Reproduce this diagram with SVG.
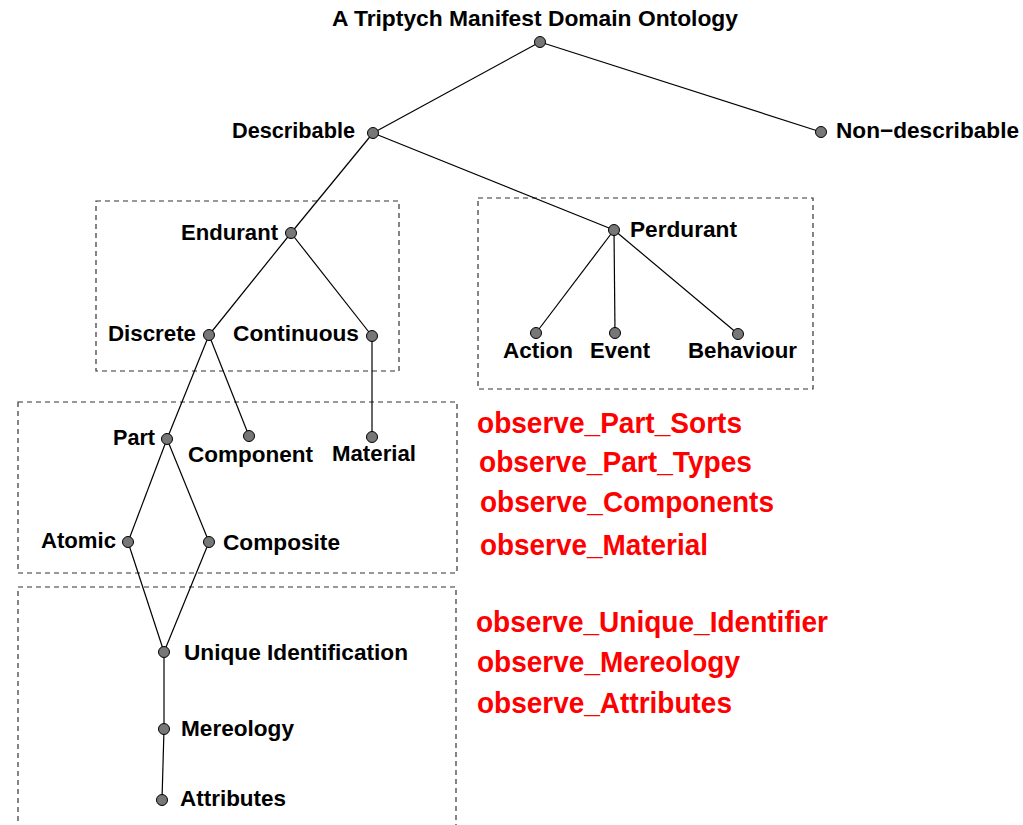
<svg xmlns="http://www.w3.org/2000/svg" width="1023" height="825" viewBox="0 0 1023 825">
<style>
.lbl{font-family:"Liberation Sans",Arial,Helvetica,sans-serif;font-weight:bold;font-size:22px;fill:#000}
.obs{font-family:"Liberation Sans",Arial,Helvetica,sans-serif;font-weight:bold;font-size:30px;fill:#ff0000}
.dot{fill:#777;stroke:#000;stroke-width:1}
.box{fill:none;stroke:#333;stroke-width:1.2;stroke-dasharray:5,4}
.edge{stroke:#000;stroke-width:1.2;fill:none}
</style>
<rect width="1023" height="825" fill="#fff"/>
<g id="boxes">
<rect class="box" x="96" y="201" width="303" height="170"/>
<rect class="box" x="478" y="198" width="335" height="191"/>
<rect class="box" x="18" y="402" width="439" height="171"/>
<path class="box" d="M18 830 V587 H456 V830"/>
</g>
<g id="connectors">
<line class="edge" x1="540" y1="42" x2="373" y2="133"/>
<line class="edge" x1="540" y1="42" x2="821" y2="132"/>
<line class="edge" x1="373" y1="133" x2="291" y2="233"/>
<line class="edge" x1="373" y1="133" x2="614" y2="230"/>
<line class="edge" x1="291" y1="233" x2="209" y2="335"/>
<line class="edge" x1="291" y1="233" x2="372" y2="336"/>
<line class="edge" x1="614" y1="230" x2="536" y2="333"/>
<line class="edge" x1="614" y1="230" x2="615" y2="333"/>
<line class="edge" x1="614" y1="230" x2="738" y2="334"/>
<line class="edge" x1="209" y1="335" x2="167" y2="439"/>
<line class="edge" x1="209" y1="335" x2="249" y2="436"/>
<line class="edge" x1="372" y1="336" x2="372" y2="437"/>
<line class="edge" x1="167" y1="439" x2="128" y2="542"/>
<line class="edge" x1="167" y1="439" x2="209" y2="542"/>
<line class="edge" x1="128" y1="542" x2="164" y2="652"/>
<line class="edge" x1="209" y1="542" x2="164" y2="652"/>
<line class="edge" x1="164" y1="652" x2="164" y2="729"/>
<line class="edge" x1="164" y1="729" x2="162" y2="800"/>
</g>
<g id="n-root"><circle class="dot" cx="540" cy="42" r="5.5"/><text class="lbl" x="332" y="26" font-size="23" textLength="406" lengthAdjust="spacingAndGlyphs">A Triptych Manifest Domain Ontology</text></g>
<g id="n-describable"><circle class="dot" cx="373" cy="133" r="5.5"/><text class="lbl" x="232" y="138" textLength="123" lengthAdjust="spacingAndGlyphs">Describable</text></g>
<g id="n-nondescribable"><circle class="dot" cx="821" cy="132" r="5.5"/><text class="lbl" x="836" y="138" textLength="183" lengthAdjust="spacingAndGlyphs">Non−describable</text></g>
<g id="n-endurant"><circle class="dot" cx="291" cy="233" r="5.5"/><text class="lbl" x="181" y="240" textLength="97" lengthAdjust="spacingAndGlyphs">Endurant</text></g>
<g id="n-perdurant"><circle class="dot" cx="614" cy="230" r="5.5"/><text class="lbl" x="630" y="237" textLength="107" lengthAdjust="spacingAndGlyphs">Perdurant</text></g>
<g id="n-discrete"><circle class="dot" cx="209" cy="335" r="5.5"/><text class="lbl" x="108" y="341" textLength="88" lengthAdjust="spacingAndGlyphs">Discrete</text></g>
<g id="n-continuous"><circle class="dot" cx="372" cy="336" r="5.5"/><text class="lbl" x="233" y="341" textLength="126" lengthAdjust="spacingAndGlyphs">Continuous</text></g>
<g id="n-action"><circle class="dot" cx="536" cy="333" r="5.5"/><text class="lbl" x="503" y="358" textLength="70" lengthAdjust="spacingAndGlyphs">Action</text></g>
<g id="n-event"><circle class="dot" cx="615" cy="333" r="5.5"/><text class="lbl" x="590" y="358" textLength="60" lengthAdjust="spacingAndGlyphs">Event</text></g>
<g id="n-behaviour"><circle class="dot" cx="738" cy="334" r="5.5"/><text class="lbl" x="688" y="358" textLength="109" lengthAdjust="spacingAndGlyphs">Behaviour</text></g>
<g id="n-part"><circle class="dot" cx="167" cy="439" r="5.5"/><text class="lbl" x="113" y="445" textLength="42" lengthAdjust="spacingAndGlyphs">Part</text></g>
<g id="n-component"><circle class="dot" cx="249" cy="436" r="5.5"/><text class="lbl" x="188" y="462" textLength="125" lengthAdjust="spacingAndGlyphs">Component</text></g>
<g id="n-material"><circle class="dot" cx="372" cy="437" r="5.5"/><text class="lbl" x="332" y="461" textLength="84" lengthAdjust="spacingAndGlyphs">Material</text></g>
<g id="n-atomic"><circle class="dot" cx="128" cy="542" r="5.5"/><text class="lbl" x="41" y="548" textLength="75" lengthAdjust="spacingAndGlyphs">Atomic</text></g>
<g id="n-composite"><circle class="dot" cx="209" cy="542" r="5.5"/><text class="lbl" x="223" y="550" textLength="117" lengthAdjust="spacingAndGlyphs">Composite</text></g>
<g id="n-uniqueid"><circle class="dot" cx="164" cy="652" r="5.5"/><text class="lbl" x="184" y="660" textLength="224" lengthAdjust="spacingAndGlyphs">Unique Identification</text></g>
<g id="n-mereology"><circle class="dot" cx="164" cy="729" r="5.5"/><text class="lbl" x="181" y="736" textLength="113" lengthAdjust="spacingAndGlyphs">Mereology</text></g>
<g id="n-attributes"><circle class="dot" cx="162" cy="800" r="5.5"/><text class="lbl" x="180" y="806" textLength="106" lengthAdjust="spacingAndGlyphs">Attributes</text></g>
<g id="observers">
<text class="obs" x="477" y="433" textLength="265" lengthAdjust="spacingAndGlyphs">observe_Part_Sorts</text>
<text class="obs" x="479" y="472" textLength="273" lengthAdjust="spacingAndGlyphs">observe_Part_Types</text>
<text class="obs" x="480" y="512" textLength="294" lengthAdjust="spacingAndGlyphs">observe_Components</text>
<text class="obs" x="480" y="555" textLength="228" lengthAdjust="spacingAndGlyphs">observe_Material</text>
<text class="obs" x="476" y="632" textLength="352" lengthAdjust="spacingAndGlyphs">observe_Unique_Identifier</text>
<text class="obs" x="477" y="672" textLength="263" lengthAdjust="spacingAndGlyphs">observe_Mereology</text>
<text class="obs" x="477" y="713" textLength="255" lengthAdjust="spacingAndGlyphs">observe_Attributes</text>
</g>
</svg>
